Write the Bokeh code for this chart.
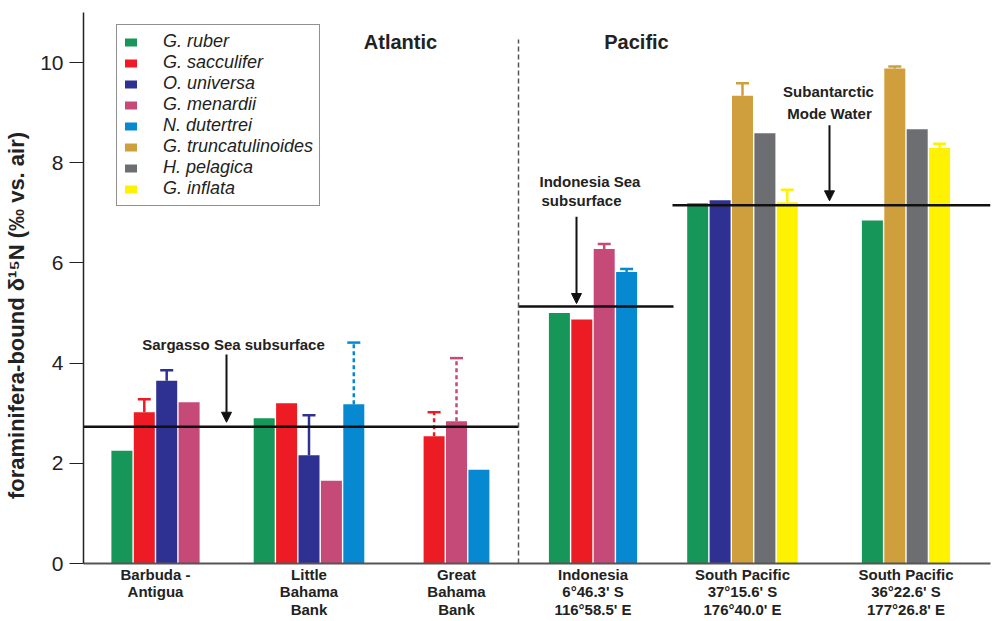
from bokeh.plotting import figure
from bokeh.models import (ColumnDataSource, FixedTicker, Range1d, Label, Arrow, NormalHead,
                          Whisker, TeeHead, Legend, LegendItem)
from bokeh.embed import file_html
from bokeh.resources import INLINE

# ---------------- data ----------------
groups = ["Barbuda -\nAntigua",
          "Little\nBahama\nBank",
          "Great\nBahama\nBank",
          "Indonesia\n6\u00b046.3' S\n116\u00b058.5' E",
          "South Pacific\n37\u00b015.6' S\n176\u00b040.0' E",
          "South Pacific\n36\u00b022.6' S\n177\u00b026.8' E"]

species = ["G. ruber", "G. sacculifer", "O. universa", "G. menardii",
           "N. dutertrei", "G. truncatulinoides", "H. pelagica", "G. inflata"]
colors = ["#169658", "#ed1c24", "#2e3192", "#c64a78",
          "#0689d0", "#cf9f3e", "#6d6e71", "#fff200"]

ruber            = [2.25, 2.90, None, 5.00, 7.19, 6.85]
sacculifer       = [3.02, 3.20, 2.54, 4.87, None, None]
universa         = [3.65, 2.16, None, None, 7.25, None]
menardii         = [3.22, 1.65, 2.84, 6.28, None, None]
dutertrei        = [None, 3.18, 1.87, 5.82, None, None]
truncatulinoides = [None, None, None, None, 9.34, 9.88]
pelagica         = [None, None, None, None, 8.59, 8.67]
inflata          = [None, None, None, None, 7.21, 8.30]
values = [ruber, sacculifer, universa, menardii, dutertrei,
          truncatulinoides, pelagica, inflata]

# upper end of error bars (None = no error bar)
err_ruber            = [None, None, None, None, None, None]
err_sacculifer       = [3.28, None, 3.02, None, None, None]
err_universa         = [3.86, 2.96, None, None, None, None]
err_menardii         = [None, None, 4.10, 6.38, None, None]
err_dutertrei        = [None, 4.41, None, 5.88, None, None]
err_truncatulinoides = [None, None, None, None, 9.59, 9.92]
err_pelagica         = [None, None, None, None, None, None]
err_inflata          = [None, None, None, None, 7.46, 8.38]
err_upper = [err_ruber, err_sacculifer, err_universa, err_menardii, err_dutertrei,
             err_truncatulinoides, err_pelagica, err_inflata]
# dashed error bars: (species index, group index)
err_dashed = [(1, 2), (3, 2), (4, 1)]

ref_names = ["Sargasso Sea subsurface", "Indonesia Sea\nsubsurface", "Subantarctic\nMode Water"]
ref_levels = [2.73, 5.13, 7.15]

# ---------------- layout ----------------
group_pos = [72, 225.5, 373, 509.5, 659, 822.5]
pitch = 22.4
bar_w = 21.0
FONT = "Liberation Sans"

p = figure(width=992, height=621, output_backend="svg", toolbar_location=None,
           x_range=Range1d(0, 907), y_range=Range1d(0, 11),
           min_border_left=83, min_border_right=2, min_border_top=12, min_border_bottom=55)
p.grid.visible = False
p.outline_line_color = None
p.background_fill_color = "white"
p.border_fill_color = "white"

# bar positions
positions = [[None] * len(groups) for _ in species]
for g in range(len(groups)):
    present = [s for s in range(len(species)) if values[s][g] is not None]
    n = len(present)
    for k, s in enumerate(present):
        positions[s][g] = group_pos[g] + (k - (n - 1) / 2) * pitch

legend_items = []
for s, sp in enumerate(species):
    xs = [positions[s][g] for g in range(len(groups)) if values[s][g] is not None]
    ys = [values[s][g] for g in range(len(groups)) if values[s][g] is not None]
    src = ColumnDataSource(dict(x=xs, top=ys))
    r = p.vbar(x="x", top="top", bottom=0, width=bar_w, source=src,
               fill_color=colors[s], line_color=None)
    legend_items.append(LegendItem(label=sp, renderers=[r]))

    for dashed in (False, True):
        ex, el, eu = [], [], []
        for g in range(len(groups)):
            if err_upper[s][g] is None:
                continue
            if ((s, g) in err_dashed) != dashed:
                continue
            ex.append(positions[s][g]); el.append(values[s][g]); eu.append(err_upper[s][g])
        if not ex:
            continue
        esrc = ColumnDataSource(dict(base=ex, lower=el, upper=eu))
        w = Whisker(source=esrc, base="base", lower="lower", upper="upper",
                    line_color=colors[s], line_width=2.5,
                    line_dash="4 3" if dashed else "solid",
                    lower_head=None,
                    upper_head=TeeHead(size=13, line_color=colors[s], line_width=2.5))
        p.add_layout(w)

# reference levels
div_x = 435
p.segment(x0=[0], x1=[div_x], y0=[ref_levels[0]], y1=[ref_levels[0]], line_color="#111", line_width=2.5)
p.segment(x0=[div_x], x1=[590], y0=[ref_levels[1]], y1=[ref_levels[1]], line_color="#111", line_width=2.5)
p.segment(x0=[589], x1=[907], y0=[ref_levels[2]], y1=[ref_levels[2]], line_color="#111", line_width=2.5)

# Atlantic / Pacific divider
p.segment(x0=[div_x], x1=[div_x], y0=[0], y1=[10.46], line_color="#555", line_width=1.5, line_dash="5 3")

# arrows
for (ax, ay0, ay1) in [(143, 4.17, 2.82), (493, 6.92, 5.19), (746, 8.75, 7.24)]:
    p.add_layout(Arrow(x_start=ax, y_start=ay0, x_end=ax, y_end=ay1,
                       line_color="#111", line_width=2,
                       end=NormalHead(size=10, fill_color="#111", line_color="#111")))

def lab(x, y, t, size="15px", align="center"):
    p.add_layout(Label(x=x, y=y, text=t, text_font=FONT, text_font_size=size,
                       text_font_style="bold", text_color="#222",
                       text_align=align, text_baseline="middle"))

lab(150, 4.37, ref_names[0])
lab(456, 7.63, ref_names[1].split("\n")[0], align="left")
lab(458, 7.24, ref_names[1].split("\n")[1], align="left")
lab(745, 9.42, ref_names[2].split("\n")[0])
lab(746, 8.99, ref_names[2].split("\n")[1])
lab(317, 10.42, "Atlantic", size="20px")
lab(553, 10.42, "Pacific", size="20px")

# axes
yax = p.yaxis[0]
yax.ticker = FixedTicker(ticks=[0, 2, 4, 6, 8, 10])
yax.minor_tick_line_color = None
yax.major_tick_out = 14
yax.major_tick_in = 0
yax.major_tick_line_color = "#222"
yax.axis_line_color = "#222"
yax.axis_line_width = 1.5
yax.major_label_text_font = FONT
yax.major_label_text_font_size = "21px"
yax.major_label_text_color = "#222"
yax.major_label_standoff = 6
yax.axis_label = "foraminifera-bound \u03b4\u00b9\u2075N (\u2030 vs. air)" + "\u00a0" * 9
yax.axis_label_text_font = FONT
yax.axis_label_text_font_size = "22px"
yax.axis_label_text_font_style = "bold"
yax.axis_label_text_color = "#222"
yax.axis_label_standoff = 8

xax = p.xaxis[0]
xax.ticker = FixedTicker(ticks=group_pos)
xax.major_label_overrides = {gp: groups[i] for i, gp in enumerate(group_pos)}
xax.minor_tick_line_color = None
xax.major_tick_line_color = None
xax.axis_line_color = "#555"
xax.axis_line_width = 2
xax.major_label_text_font = FONT
xax.major_label_text_font_size = "15px"
xax.major_label_text_font_style = "bold"
xax.major_label_text_color = "#222"
xax.major_label_text_line_height = 1.05
xax.major_label_standoff = -4

legend = Legend(items=legend_items, location=(33, 357),
                label_text_font=FONT, label_text_font_style="italic",
                label_text_font_size="18px", label_text_color="#222",
                glyph_width=15, glyph_height=10, label_height=18, spacing=0,
                label_standoff=25, padding=6, margin=0,
                border_line_color="#222", border_line_width=1,
                background_fill_color="white", background_fill_alpha=1)
p.add_layout(legend, "center")

open("out.html", "w").write(file_html(p, INLINE))
